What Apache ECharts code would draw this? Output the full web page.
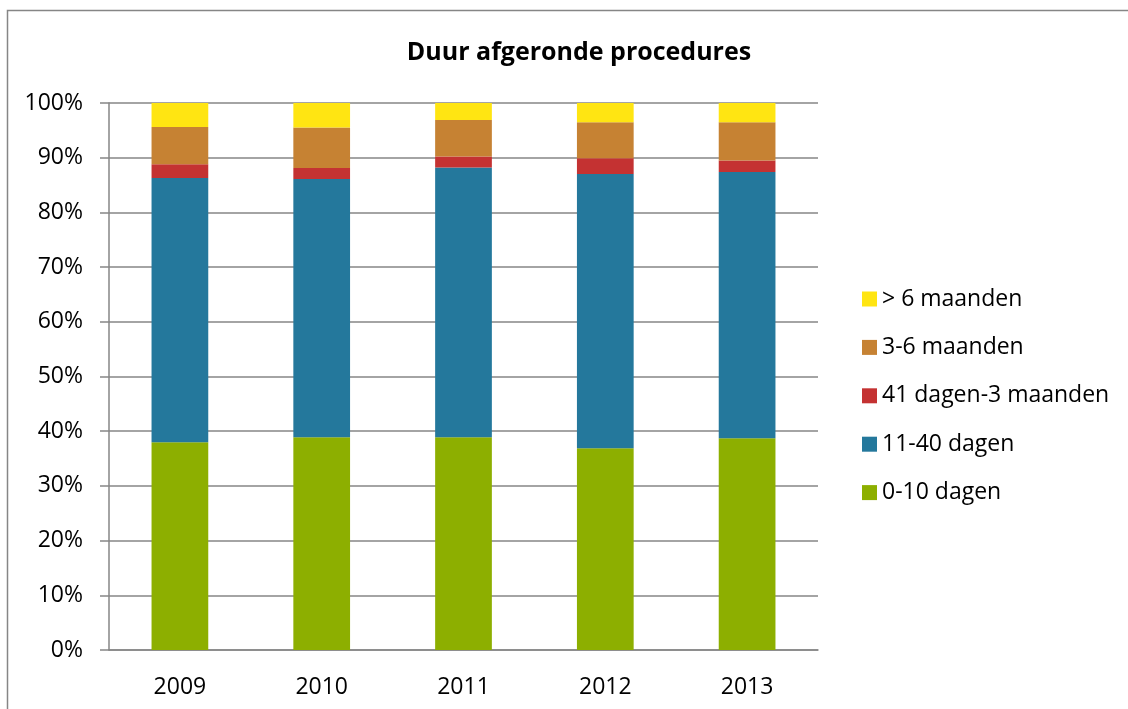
<!DOCTYPE html>
<html>
<head>
<meta charset="utf-8">
<script src="https://cdn.jsdelivr.net/npm/echarts@6/dist/echarts.min.js"></script>
<style>
  html, body { margin: 0; padding: 0; background: #fff; }
  #chart { width: 1128px; height: 709px; }
</style>
</head>
<body>
<div id="chart"></div>
<script>
// jaren
const years = ['2009', '2010', '2011', '2012', '2013'];

// aandelen per duurklasse (%)
const dagen0_10 = [38.0, 38.9, 38.9, 36.9, 38.7];
const dagen11_40 = [48.3, 47.2, 49.3, 50.1, 48.7];
const dagen41_3mnd = [2.5, 2.0, 2.0, 2.9, 2.1];
const maanden3_6 = [6.8, 7.4, 6.7, 6.6, 7.0];
const maanden6plus = [4.4, 4.5, 3.1, 3.5, 3.5];

const seriesNames = ['0-10 dagen', '11-40 dagen', '41 dagen-3 maanden', '3-6 maanden', '> 6 maanden'];
const seriesColors = ['#8DAF00', '#24789C', '#C43232', '#C68233', '#FFE512'];
const seriesData = [dagen0_10, dagen11_40, dagen41_3mnd, maanden3_6, maanden6plus];

const font = '"Open Sans", "DejaVu Sans", sans-serif';
const grey = '#868686';

const chart = echarts.init(document.getElementById('chart'), null, { renderer: 'canvas' });

const options = {
  backgroundColor: '#fff',
  animation: false,
  textStyle: { fontFamily: font, color: '#000' },
  title: {
    text: 'Duur afgeronde procedures',
    left: 574,
    top: 35,
    textAlign: 'center',
    textStyle: { fontFamily: font, fontSize: 25, fontWeight: 'bold', color: '#000' }
  },
  legend: {
    orient: 'vertical',
    left: 862,
    top: 287,
    padding: 0,
    data: seriesNames.slice().reverse(),
    icon: 'rect',
    itemWidth: 15,
    itemHeight: 15,
    itemGap: 24.4,
    textStyle: { fontFamily: font, fontSize: 23, color: '#000', lineHeight: 24 }
  },
  grid: { left: 109, right: 310, top: 103, bottom: 59 },
  xAxis: {
    type: 'category',
    data: years,
    axisLine: { lineStyle: { color: grey, width: 1.5 } },
    axisTick: { show: false },
    axisLabel: { margin: 26, fontSize: 23, color: '#000', fontFamily: font }
  },
  yAxis: {
    type: 'value',
    min: 0,
    max: 100,
    interval: 10,
    axisLine: { show: true, lineStyle: { color: grey, width: 1.5 } },
    axisTick: { show: true, length: 9, lineStyle: { color: grey, width: 1.5 } },
    splitLine: { lineStyle: { color: grey, width: 1.5 } },
    axisLabel: { formatter: '{value}%', margin: 26, fontSize: 23, color: '#000', fontFamily: font }
  },
  graphic: [{
    type: 'rect',
    shape: { x: 7.5, y: 10.5, width: 1300, height: 900 },
    style: { fill: null, stroke: grey, lineWidth: 1.5 },
    silent: true
  }],
  series: seriesNames.map((name, i) => ({
    name: name,
    type: 'bar',
    stack: 'totaal',
    data: seriesData[i],
    barWidth: '40%',
    itemStyle: { color: seriesColors[i] }
  }))
};

chart.setOption(options);
</script>
</body>
</html>
